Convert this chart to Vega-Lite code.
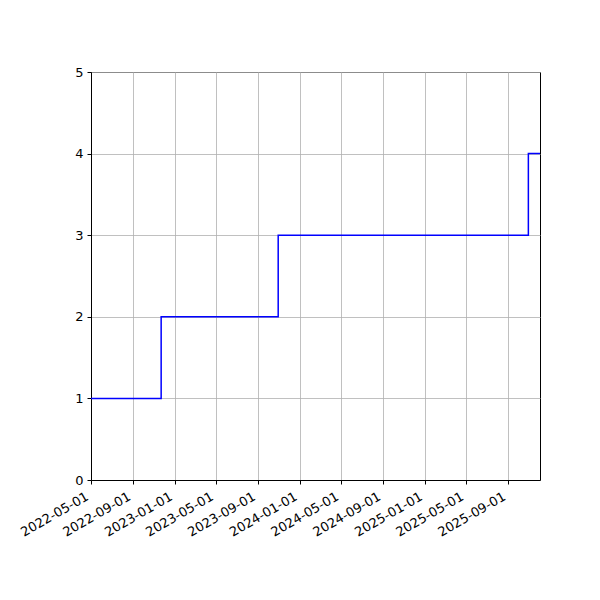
{
  "$schema": "https://vega.github.io/schema/vega-lite/v6.json",
  "width": 449,
  "height": 408,
  "autosize": {"type": "none"},
  "padding": {"left": 91, "top": 72, "right": 60, "bottom": 120},
  "background": "white",
  "config": {
    "view": {"stroke": "black", "strokeWidth": 1},
    "font": "DejaVu Sans"
  },
  "data": {
    "values": [
      {"date": "2022-05-01", "value": 1},
      {"date": "2022-11-22", "value": 2},
      {"date": "2023-10-30", "value": 3},
      {"date": "2025-10-30", "value": 4},
      {"date": "2025-12-03", "value": 4}
    ]
  },
  "mark": {"type": "line", "interpolate": "step-after", "color": "#0000ff", "strokeWidth": 1.5, "clip": true},
  "encoding": {
    "x": {
      "field": "date",
      "type": "temporal",
      "scale": {"type": "utc", "domain": [{"year": 2022, "month": 5, "date": 1, "utc": true}, {"year": 2025, "month": 12, "date": 3, "utc": true}]},
      "axis": {
        "title": null,
        "values": [
          {"year": 2022, "month": 5, "date": 1, "utc": true},
          {"year": 2022, "month": 9, "date": 1, "utc": true},
          {"year": 2023, "month": 1, "date": 1, "utc": true},
          {"year": 2023, "month": 5, "date": 1, "utc": true},
          {"year": 2023, "month": 9, "date": 1, "utc": true},
          {"year": 2024, "month": 1, "date": 1, "utc": true},
          {"year": 2024, "month": 5, "date": 1, "utc": true},
          {"year": 2024, "month": 9, "date": 1, "utc": true},
          {"year": 2025, "month": 1, "date": 1, "utc": true},
          {"year": 2025, "month": 5, "date": 1, "utc": true},
          {"year": 2025, "month": 9, "date": 1, "utc": true}
        ],
        "labelExpr": "utcFormat(datum.value, '%Y-%m-%d')",
        "labelAngle": -30,
        "labelAlign": "right",
        "labelBaseline": "top",
        "labelFontSize": 13,
        "labelColor": "black",
        "labelPadding": 6,
        "labelOffset": -7,
        "labelFlush": false,
        "labelOverlap": false,
        "tickColor": "black",
        "tickSize": 4,
        "domainColor": "black",
        "grid": true,
        "gridColor": "#b0b0b0",
        "gridWidth": 0.8
      }
    },
    "y": {
      "field": "value",
      "type": "quantitative",
      "scale": {"domain": [0, 5], "nice": false, "zero": true},
      "axis": {
        "title": null,
        "values": [0, 1, 2, 3, 4, 5],
        "labelFontSize": 13,
        "labelColor": "black",
        "labelPadding": 4,
        "tickColor": "black",
        "tickSize": 4,
        "domainColor": "black",
        "grid": true,
        "gridColor": "#b0b0b0",
        "gridWidth": 0.8
      }
    }
  }
}
